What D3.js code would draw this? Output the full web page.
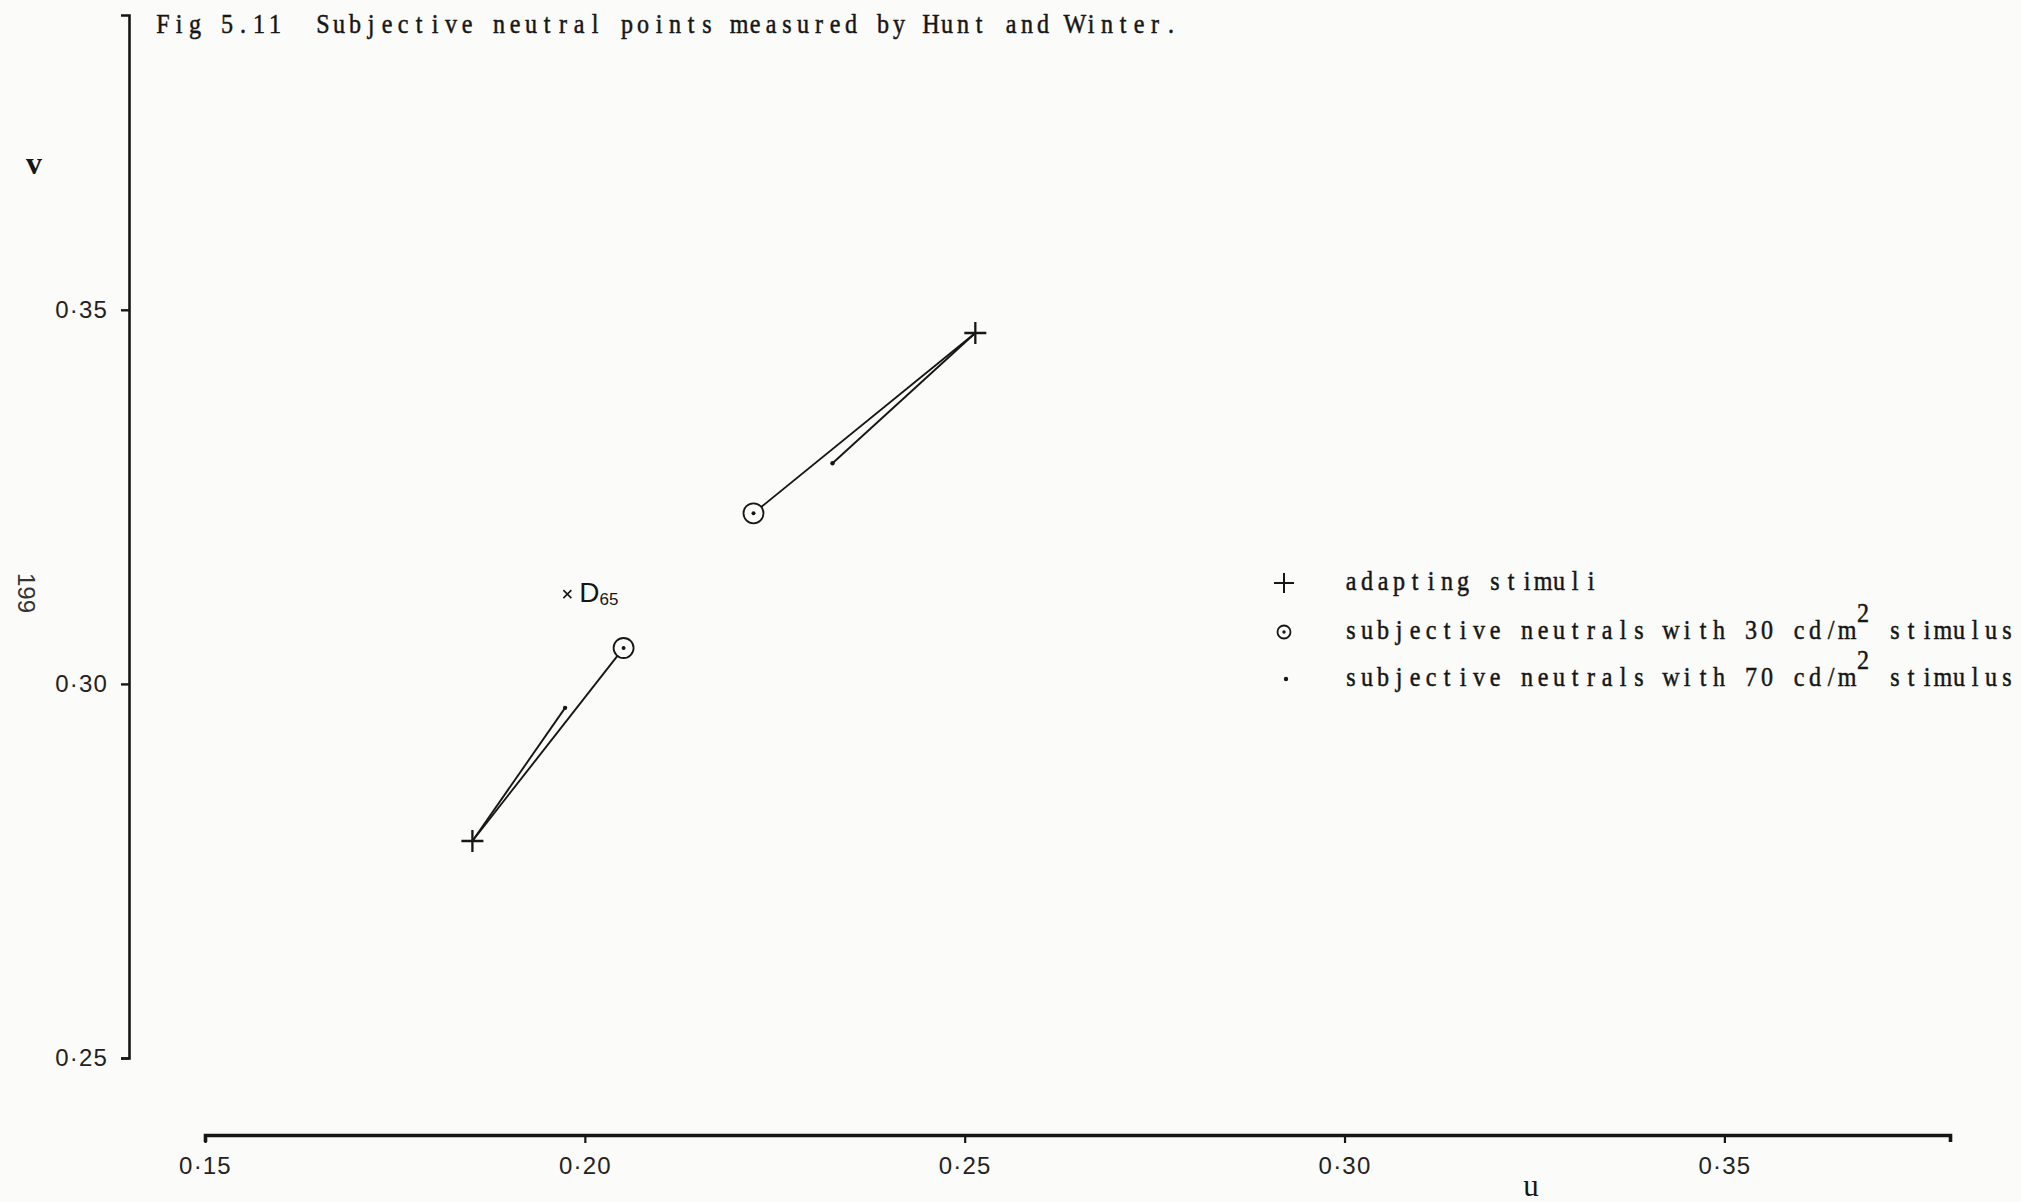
<!DOCTYPE html>
<html>
<head>
<meta charset="utf-8">
<script src="https://cdn.jsdelivr.net/npm/d3@7"></script>
<style>
  html, body { margin: 0; padding: 0; background: #fbfbf9; }
  svg { display: block; }
  .tick text { font-family: "Liberation Sans", Arial, sans-serif; font-size: 24px; fill: #222; letter-spacing: 1.2px; }
  .typed { font-family: "Liberation Serif", "DejaVu Serif", serif; font-size: 28px; fill: #161616; stroke: #161616; stroke-width: 0.5px; white-space: pre; }
</style>
</head>
<body>
<script>
// ---- data: CIE 1960 (u, v) chromaticities ----
const uTicks = [0.15, 0.20, 0.25, 0.30, 0.35];
const vTicks = [0.25, 0.30, 0.35];

// adapting stimuli
const adaptU = [0.1852, 0.2514];
const adaptV = [0.2790, 0.3469];
// subjective neutrals, 30 cd/m2 stimulus
const n30U = [0.2051, 0.2222];
const n30V = [0.3048, 0.3228];
// subjective neutrals, 70 cd/m2 stimulus
const n70U = [0.1974, 0.2326];
const n70V = [0.2968, 0.3295];
// reference white
const d65U = 0.1977;
const d65V = 0.3120;

const titleText = "Fig 5.11  Subjective neutral points measured by Hunt and Winter.";
const legendRows = [
  { key: "cross",  text: ["adapting stimuli"] },
  { key: "circle", text: ["subjective neutrals with 30 cd/m", "2", " stimulus"] },
  { key: "dot",    text: ["subjective neutrals with 70 cd/m", "2", " stimulus"] }
];

// ---- layout ----
const W = 2021, H = 1202;
const svg = d3.select("body").append("svg").attr("width", W).attr("height", H);

const x = d3.scaleLinear().domain([0.15, 0.3797]).range([205, 1950]);
const y = d3.scaleLinear().domain([0.25, 0.3894]).range([1058, 15]);
const axisX0 = 129, axisY0 = 1135;
const ink = "#161616";
const fmt = d => d3.format(".2f")(d).replace(".", "\u00B7");

// typewriter-style line: every character centred in a fixed 16px cell
const CELL = 16, SX = 0.86;
function cellXs(n, offset) {
  return d3.range(n).map(i => (((offset + i + 0.5) * CELL) / SX).toFixed(2)).join(" ");
}
function typeLine(parent, parts, x0, base, raise) {
  const t = parent.append("text").attr("class", "typed")
    .attr("transform", `translate(${x0},${base}) scale(${SX},1)`)
    .attr("text-anchor", "middle");
  let offset = 0;
  parts.forEach((p, i) => {
    const sup = parts.length > 1 && i === 1;
    t.append("tspan")
      .attr("x", cellXs(p.length, offset))
      .attr("y", sup ? -raise : 0)
      .text(p);
    offset += p.length;
  });
  return t;
}

// ---- axes ----
const gy = svg.append("g").attr("transform", `translate(${axisX0},0)`)
  .call(d3.axisLeft(y).tickValues(vTicks).tickSize(8).tickSizeOuter(8).tickPadding(13).tickFormat(fmt));
gy.select(".domain").attr("stroke", ink).attr("stroke-width", 2.6);
gy.selectAll(".tick line").attr("stroke", ink).attr("stroke-width", 2.4);

const gx = svg.append("g").attr("transform", `translate(0,${axisY0})`)
  .call(d3.axisBottom(x).tickValues(uTicks).tickSize(8).tickSizeOuter(7).tickPadding(14).tickFormat(fmt));
gx.select(".domain").attr("stroke", ink).attr("stroke-width", 3.6);
gx.selectAll(".tick line").attr("stroke", ink).attr("stroke-width", 2.2);

// axis names and page number
svg.append("text").attr("x", 34).attr("y", 174).attr("text-anchor", "middle")
  .attr("font-family", "Liberation Serif, serif").attr("font-size", 32).attr("font-weight", "bold")
  .attr("fill", ink).text("v");
svg.append("text").attr("x", 1531).attr("y", 1196).attr("text-anchor", "middle")
  .attr("font-family", "Liberation Serif, serif").attr("font-size", 31)
  .attr("fill", ink).text("u");
svg.append("text").attr("transform", "translate(18,593) rotate(90)").attr("text-anchor", "middle")
  .attr("font-family", "Liberation Sans, Arial, sans-serif").attr("font-size", 24)
  .attr("fill", "#333").text("199");

// title
typeLine(svg, [titleText], 155, 33, 0);

// ---- data marks ----
const R30 = 10;
const plot = svg.append("g").attr("stroke", ink).attr("fill", "none");

adaptU.forEach((u, i) => {
  const ax = x(u), ay = y(adaptV[i]);
  // line to the 30 cd/m2 neutral, stopping at the ring
  const cx = x(n30U[i]), cy = y(n30V[i]);
  const len = Math.hypot(cx - ax, cy - ay);
  plot.append("line").attr("x1", ax).attr("y1", ay)
    .attr("x2", cx - (cx - ax) / len * R30).attr("y2", cy - (cy - ay) / len * R30)
    .attr("stroke-width", 1.9);
  // line to the 70 cd/m2 neutral
  plot.append("line").attr("x1", ax).attr("y1", ay)
    .attr("x2", x(n70U[i])).attr("y2", y(n70V[i]))
    .attr("stroke-width", 1.9);
});

// adapting stimuli: crosses
adaptU.forEach((u, i) => {
  const ax = x(u), ay = y(adaptV[i]);
  plot.append("path").attr("d", `M${ax - 11},${ay}H${ax + 11}M${ax},${ay - 11}V${ay + 11}`)
    .attr("stroke-width", 2.3);
});
// 30 cd/m2 neutrals: ringed dot
n30U.forEach((u, i) => {
  plot.append("circle").attr("cx", x(u)).attr("cy", y(n30V[i])).attr("r", R30)
    .attr("fill", "#fbfbf9").attr("stroke-width", 1.8);
  plot.append("circle").attr("cx", x(u)).attr("cy", y(n30V[i])).attr("r", 2)
    .attr("fill", ink).attr("stroke", "none");
});
// 70 cd/m2 neutrals: dot
n70U.forEach((u, i) => {
  plot.append("circle").attr("cx", x(u)).attr("cy", y(n70V[i])).attr("r", 2.2)
    .attr("fill", ink).attr("stroke", "none");
});

// D65 white point
const dx = x(d65U), dy = y(d65V);
plot.append("path").attr("d", `M${dx - 4},${dy - 4}L${dx + 4},${dy + 4}M${dx + 4},${dy - 4}L${dx - 4},${dy + 4}`)
  .attr("stroke-width", 1.6);
const d65 = svg.append("text").attr("x", dx + 12).attr("y", dy + 8)
  .attr("font-family", "Liberation Sans, Arial, sans-serif").attr("fill", ink);
d65.append("tspan").attr("font-size", 28).text("D");
d65.append("tspan").attr("font-size", 17).attr("dy", 3).text("65");

// ---- legend ----
const legX = 1284, legTextX = 1343;
const legY = [583, 632, 679];
const leg = svg.append("g");
legendRows.forEach((row, i) => {
  const cy = legY[i];
  if (row.key === "cross") {
    leg.append("path").attr("d", `M${legX - 10},${cy}H${legX + 10}M${legX},${cy - 10}V${cy + 10}`)
      .attr("stroke", ink).attr("stroke-width", 2);
  } else if (row.key === "circle") {
    leg.append("circle").attr("cx", legX).attr("cy", cy).attr("r", 6.5)
      .attr("fill", "none").attr("stroke", ink).attr("stroke-width", 1.8);
    leg.append("circle").attr("cx", legX).attr("cy", cy).attr("r", 1.7).attr("fill", ink);
  } else {
    leg.append("circle").attr("cx", legX + 2).attr("cy", cy).attr("r", 2.2).attr("fill", ink);
  }
  typeLine(leg, row.text, legTextX, cy + 7, 17);
});
</script>
</body>
</html>
